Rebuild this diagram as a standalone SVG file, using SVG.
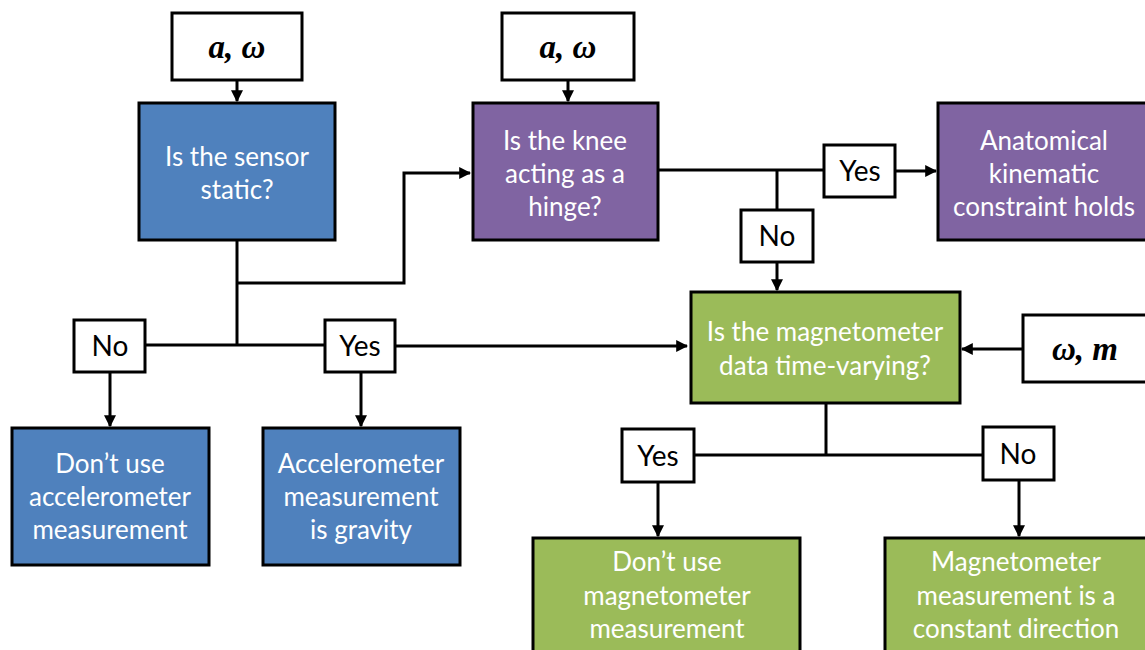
<svg xmlns="http://www.w3.org/2000/svg" width="1145" height="650" viewBox="0 0 1145 650">
<style>
.n{stroke:#000;stroke-width:3}
.blue{fill:#4F81BD}.purple{fill:#8064A2}.green{fill:#9BBB59}.white{fill:#fff}
.t{font-family:Lato,"Open Sans",sans-serif;font-size:26px;fill:#fff;text-anchor:middle}
.l{font-family:Lato,"Open Sans",sans-serif;font-size:28px;fill:#000;text-anchor:middle}
.m{font-family:"Liberation Serif","DejaVu Serif",serif;font-size:33px;font-weight:bold;font-style:italic;fill:#000;text-anchor:middle}
.c{stroke:#000;stroke-width:3;fill:none}
</style>
<defs>
<marker id="ah" viewBox="0 0 10 10" refX="9" refY="5" markerWidth="4" markerHeight="4" orient="auto" markerUnits="strokeWidth">
<path d="M0,0 L10,5 L0,10 z" fill="#000"/>
</marker>
</defs>
<g id="connectors">
<line class="c" x1="237" y1="80" x2="237" y2="101" marker-end="url(#ah)"/>
<line class="c" x1="568" y1="80" x2="568" y2="101" marker-end="url(#ah)"/>
<polyline class="c" points="237,240 237,345"/>
<polyline class="c" points="237,283 404,283 404,173 470,173" marker-end="url(#ah)"/>
<line class="c" x1="145" y1="345" x2="325" y2="345"/>
<line class="c" x1="395" y1="346" x2="687" y2="346" marker-end="url(#ah)"/>
<line class="c" x1="110" y1="372" x2="110" y2="426" marker-end="url(#ah)"/>
<line class="c" x1="361" y1="372" x2="361" y2="426" marker-end="url(#ah)"/>
<line class="c" x1="658" y1="170" x2="824" y2="170"/>
<line class="c" x1="895" y1="171" x2="936" y2="171" marker-end="url(#ah)"/>
<line class="c" x1="777" y1="170" x2="777" y2="210"/>
<line class="c" x1="777" y1="262" x2="777" y2="290" marker-end="url(#ah)"/>
<line class="c" x1="1023" y1="349" x2="962" y2="349" marker-end="url(#ah)"/>
<line class="c" x1="826" y1="403" x2="826" y2="455"/>
<line class="c" x1="694" y1="455" x2="983" y2="455"/>
<line class="c" x1="658" y1="482" x2="658" y2="536" marker-end="url(#ah)"/>
<line class="c" x1="1019" y1="480" x2="1019" y2="536" marker-end="url(#ah)"/>
</g>
<g id="inA"><rect class="n white" x="172" y="13" width="130" height="67"/><text class="m" x="237" y="58">a, ω</text></g>
<g id="inB"><rect class="n white" x="502" y="13" width="132" height="67"/><text class="m" x="568" y="58">a, ω</text></g>
<g id="inC"><rect class="n white" x="1023" y="315" width="130" height="67"/><text class="m" x="1085" y="360">ω, m</text></g>
<g id="static"><rect class="n blue" x="139" y="103" width="196" height="137"/>
<text class="t" x="237" y="166">Is the sensor</text><text class="t" x="237" y="199">static?</text></g>
<g id="hinge"><rect class="n purple" x="473" y="103" width="185" height="137"/>
<text class="t" x="565" y="150">Is the knee</text><text class="t" x="565" y="183">acting as a</text><text class="t" x="565" y="216">hinge?</text></g>
<g id="anat"><rect class="n purple" x="938" y="103" width="215" height="137"/>
<text class="t" x="1044" y="150">Anatomical</text><text class="t" x="1044" y="183">kinematic</text><text class="t" x="1044" y="216">constraint holds</text></g>
<g id="mag"><rect class="n green" x="691" y="292" width="269" height="111"/>
<text class="t" x="825" y="341">Is the magnetometer</text><text class="t" x="825" y="375">data time-varying?</text></g>
<g id="noacc"><rect class="n blue" x="12" y="428" width="197" height="137"/>
<text class="t" x="110" y="473">Don’t use</text><text class="t" x="110" y="506">accelerometer</text><text class="t" x="110" y="539">measurement</text></g>
<g id="grav"><rect class="n blue" x="263" y="428" width="197" height="137"/>
<text class="t" x="361" y="473">Accelerometer</text><text class="t" x="361" y="506">measurement</text><text class="t" x="361" y="539">is gravity</text></g>
<g id="nomag"><rect class="n green" x="533" y="538" width="267" height="120"/>
<text class="t" x="667" y="571">Don’t use</text><text class="t" x="667" y="605">magnetometer</text><text class="t" x="667" y="638">measurement</text></g>
<g id="const"><rect class="n green" x="885" y="538" width="270" height="120"/>
<text class="t" x="1016" y="571">Magnetometer</text><text class="t" x="1016" y="605">measurement is a</text><text class="t" x="1016" y="638">constant direction</text></g>
<g id="lNo1"><rect class="n white" x="74" y="320" width="71" height="52"/><text class="l" x="110" y="356">No</text></g>
<g id="lYes1"><rect class="n white" x="325" y="320" width="70" height="52"/><text class="l" x="360" y="356">Yes</text></g>
<g id="lYes2"><rect class="n white" x="824" y="145" width="71" height="52"/><text class="l" x="860" y="181">Yes</text></g>
<g id="lNo2"><rect class="n white" x="741" y="210" width="72" height="52"/><text class="l" x="777" y="246">No</text></g>
<g id="lYes3"><rect class="n white" x="622" y="429" width="72" height="53"/><text class="l" x="658" y="466">Yes</text></g>
<g id="lNo3"><rect class="n white" x="983" y="427" width="71" height="53"/><text class="l" x="1018" y="464">No</text></g>
</svg>
